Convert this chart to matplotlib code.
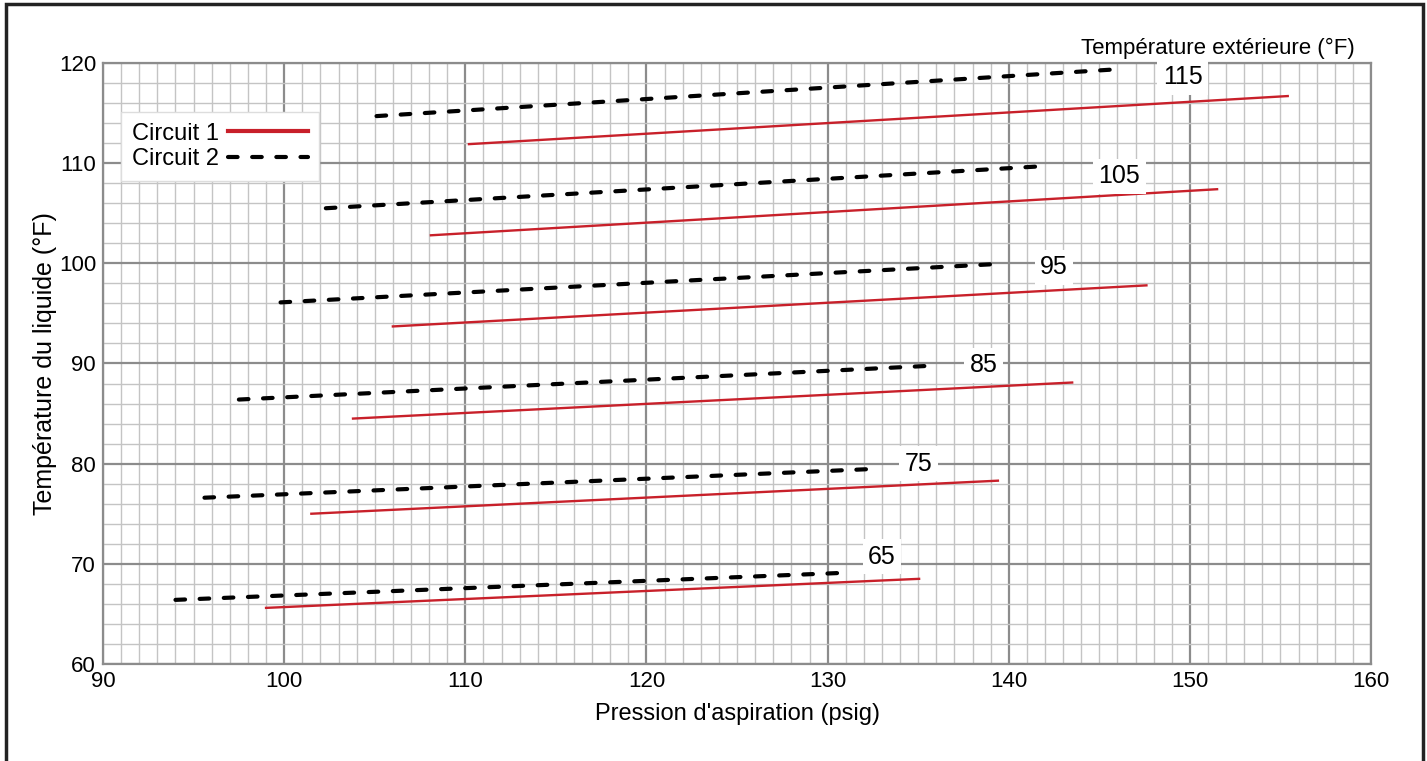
import matplotlib
matplotlib.use('Agg')
import matplotlib.pyplot as plt
from matplotlib.patches import Rectangle
import numpy as np

plt.rcParams['font.family'] = ['Liberation Sans', 'DejaVu Sans']

# outdoor temperature of each pair of lines
outdoor_temps = [65, 75, 85, 95, 105, 115]

# circuit 1 (red, solid): start / end points
c1_x = [[99.0, 135.05], [101.5, 139.4], [103.8, 143.5], [106.0, 147.6], [108.1, 151.5], [110.2, 155.4]]
c1_y = [[65.6, 68.5], [75.0, 78.3], [84.5, 88.1], [93.7, 97.8], [102.8, 107.4], [111.9, 116.7]]

# circuit 2 (black, dashed): start / end points
c2_x = [[94.0, 130.9], [95.6, 132.9], [97.5, 136.0], [99.8, 139.0], [102.3, 141.9], [105.1, 146.2]]
c2_y = [[66.4, 69.1], [76.6, 79.5], [86.4, 89.8], [96.1, 99.9], [105.5, 109.7], [114.7, 119.4]]

# temperature label positions
label_x = [133.0, 135.0, 138.6, 142.5, 146.1, 149.6]
label_y = [70.7, 80.0, 89.8, 99.6, 108.7, 118.6]

red = '#c8202a'

fig = plt.figure(figsize=(14.27, 7.61), dpi=100)
ax = fig.add_axes([0.0722, 0.1275, 0.8886, 0.7897])

# outer frame
fig.patches.append(Rectangle((0.004, -0.05), 0.993, 1.045, transform=fig.transFigure,
                             fill=False, edgecolor='#222222', lw=2.5))

ax.set_xlim(90, 160)
ax.set_ylim(60, 120)
ax.set_xticks(np.arange(90, 161, 10))
ax.set_yticks(np.arange(60, 121, 10))
ax.set_xticks(np.arange(90, 161, 1), minor=True)
ax.set_yticks(np.arange(60, 121, 2), minor=True)
ax.grid(True, which='major', color='#8c8c8c', lw=1.6)
ax.grid(True, which='minor', color='#c4c4c4', lw=1.0)
ax.set_axisbelow(True)
ax.tick_params(which='both', length=0, labelsize=16)
ax.tick_params(axis='x', pad=5)
ax.tick_params(axis='y', pad=5)
for s in ax.spines.values():
    s.set_color('#8c8c8c')
    s.set_linewidth(1.6)

for i in range(len(outdoor_temps)):
    ax.plot(c1_x[i], c1_y[i], color=red, lw=1.7,
            label='Circuit 1' if i == 0 else None)
    ax.plot(c2_x[i], c2_y[i], color='black', lw=3.0, dashes=(2.3, 3.5),
            dash_capstyle='round', label='Circuit 2' if i == 0 else None)
    ax.text(label_x[i], label_y[i], str(outdoor_temps[i]), fontsize=18,
            ha='center', va='center',
            bbox=dict(facecolor='white', edgecolor='none', pad=4))

leg = ax.legend(loc='upper left', bbox_to_anchor=(0.0142, 0.9185), fontsize=17,
                markerfirst=False, frameon=True, fancybox=False, borderaxespad=0,
                handlelength=3.4, borderpad=0.45, labelspacing=0.15, handletextpad=0.4)
leg.get_frame().set_edgecolor('#dddddd')
leg.get_frame().set_alpha(1)
for h in leg.get_lines():
    h.set_linewidth(3.0)

ax.text(0.987, 1.006, 'Température extérieure (°F)', transform=ax.transAxes,
        ha='right', va='bottom', fontsize=16)
ax.set_xlabel("Pression d'aspiration (psig)", fontsize=17, labelpad=8)
ax.set_ylabel('Température du liquide (°F)', fontsize=18, labelpad=1)

fig.savefig('out.png', dpi=100)
